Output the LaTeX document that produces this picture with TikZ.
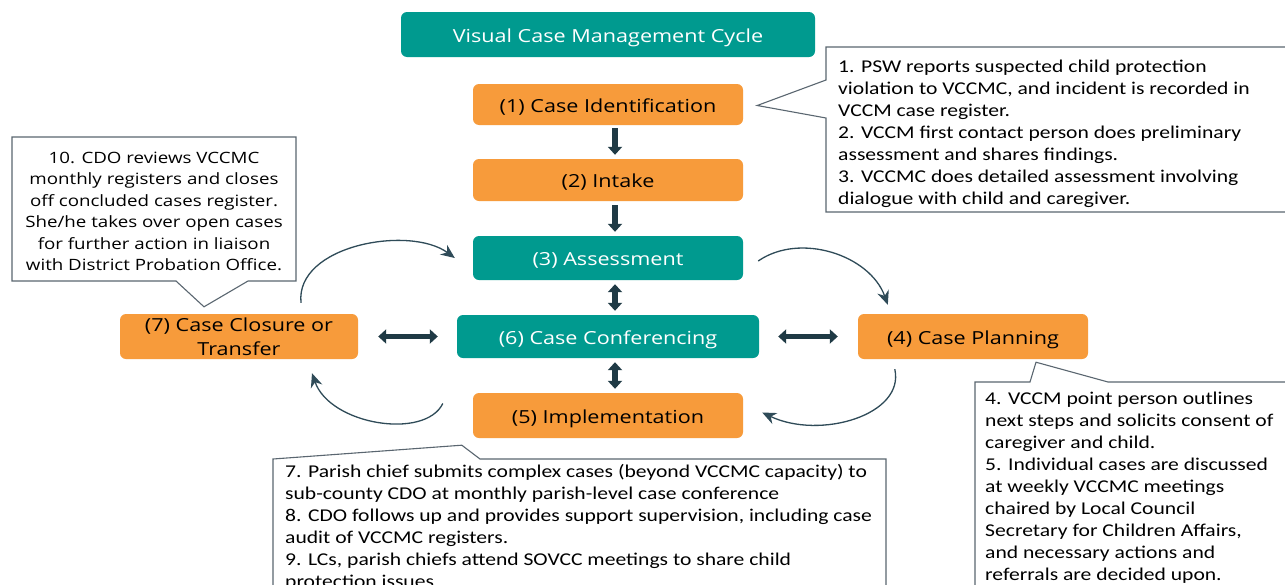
\documentclass[tikz,border=0pt]{standalone}
\usepackage{fontspec}
\setmainfont{Open Sans}
\newfontfamily\callfont{Carlito}[FakeStretch=1.2]
\newfontfamily\osfont{Open Sans}[FakeStretch=1.2]
\usetikzlibrary{arrows.meta,calc}
\definecolor{orng}{RGB}{247,155,59}
\definecolor{teal2}{RGB}{0,154,143}
\definecolor{darkarr}{RGB}{31,58,69}
\definecolor{curvec}{RGB}{47,75,88}
\definecolor{callb}{RGB}{90,102,112}
\tikzset{
  obox/.style={fill=orng, rounded corners=6pt, inner sep=0pt, text=black, font=\osfont\fontsize{18}{24}\selectfont, align=center},
  tbox/.style={fill=teal2, rounded corners=6pt, inner sep=0pt, text=white, font=\osfont\fontsize{18}{24}\selectfont, align=center},
  oneline/.style={text height=16pt, text depth=1pt},
  blockarr/.style={draw=darkarr, line width=5.5pt, -{Triangle[length=8pt,width=14pt]}},
  blockdbl/.style={draw=darkarr, line width=5.5pt, {Triangle[length=8pt,width=14pt]}-{Triangle[length=8pt,width=14pt]}},
  curvarr/.style={draw=curvec, line width=1.3pt, -{Stealth[length=14pt,width=12pt]}},
  callout/.style={draw=callb, line width=1.1pt, fill=white},
  calltext/.style={inner sep=0pt, align=left, anchor=north west, font=\callfont\fontsize{18}{22}\selectfont},
}
\begin{document}
\begin{tikzpicture}[x=1pt,y=-1pt]
\useasboundingbox (0,0) rectangle (1285,584);
\clip (0,0) rectangle (1285,584);
\fill[white] (0,0) rectangle (1285,584);

% title
\node[tbox, oneline, minimum width=414pt, minimum height=45pt] (title) at (608,34.5) {Visual Case Management Cycle};

% boxes
\node[obox, oneline, minimum width=270pt, minimum height=41pt] (b1) at (608,104.5) {(1) Case Identification};
\node[obox, oneline, minimum width=270pt, minimum height=42pt] (b2) at (608,180) {(2) Intake};
\node[tbox, oneline, minimum width=270pt, minimum height=44pt] (b3) at (608,258) {(3) Assessment};
\node[tbox, oneline, minimum width=302pt, minimum height=43pt] (b6) at (608,336.5) {(6) Case Conferencing};
\node[obox, oneline, minimum width=270pt, minimum height=45pt] (b5) at (608,415.5) {(5) Implementation};
\node[obox, oneline, minimum width=230pt, minimum height=45pt] (b4) at (973,336.5) {(4) Case Planning};
\node[obox, minimum width=238pt, minimum height=45pt] (b7) at (239,336.5) {(7) Case Closure or\\Transfer};

% block arrows
\draw[blockarr] ($(b1.south)+(7,3)$) -- ($(b2.north)+(7,-4)$);
\draw[blockarr] ($(b2.south)+(7,4)$) -- ($(b3.north)+(7,-4)$);
\draw[blockdbl] ($(b3.south)+(7,4)$) -- ($(b6.north)+(7,-4)$);
\draw[blockdbl] ($(b6.south)+(7,4)$) -- ($(b5.north)+(7,-4)$);
\draw[blockdbl] ($(b7.east)+(20,0)$) -- ($(b6.west)+(-19,0)$);
\draw[blockdbl] ($(b6.east)+(19,0)$) -- ($(b4.west)+(-20,0)$);

% curved arrows
\draw[curvarr] ($(b3.east)+(15,3)$) .. controls (800,232) and (870,255) .. ($(b4.north west)+(30,-9)$);
\draw[curvarr] ($(b4.south west)+(37,10)$) .. controls (905,415) and (820,440) .. ($(b5.east)+(19,-3)$);
\draw[curvarr] ($(b5.west)+(-30,-12)$) .. controls (425,440) and (330,425) .. ($(b7.south)+(73,14)$);
\draw[curvarr] ($(b7.north)+(62,-11)$) .. controls (295,245) and (410,225) .. ($(b3.west)+(-18,0)$);

% callout 1
\draw[callout] (826,47) -- (1295,47) -- (1295,212) -- (826,212) -- (826,118) -- ($(b1.east)+(14,1)$) -- (826,80) -- cycle;
\node[calltext] (t1) at (838,60) {1. PSW reports suspected child protection\\violation to VCCMC, and incident is recorded in\\VCCM case register.\\2. VCCM first contact person does preliminary\\assessment and shares findings.\\3. VCCMC does detailed assessment involving\\dialogue with child and caregiver.};

% callout 10
\draw[callout] (12,137) -- (296,137) -- (296,281) -- (248,281) -- ($(b7.north)+(-35,-7)$) -- (176,281) -- (12,281) -- cycle;
\node[inner sep=0pt, align=center, font=\osfont\fontsize{15.6}{21.5}\selectfont] (t10) at (154,211.5) {10. CDO reviews VCCMC\\monthly registers and closes\\off concluded cases register.\\She/he takes over open cases\\for further action in liaison\\with District Probation Office.};

% callout 7
\draw[callout] (273,459) -- ($(b5.south west)+(-11,7)$) -- (480,459) -- (886,459) -- (886,600) -- (273,600) -- cycle;
\node[calltext] (t7) at (285,464) {7. Parish chief submits complex cases (beyond VCCMC capacity) to\\sub-county CDO at monthly parish-level case conference\\8. CDO follows up and provides support supervision, including case\\audit of VCCMC registers.\\9. LCs, parish chiefs attend SOVCC meetings to share child\\protection issues};

% callout 4
\draw[callout] (975,382) -- (1030,382) -- ($(b4.south)+(63,3)$) -- (1108,382) -- (1295,382) -- (1295,600) -- (975,600) -- cycle;
\node[calltext] (t4) at (985,392) {4. VCCM point person outlines\\next steps and solicits consent of\\caregiver and child.\\5. Individual cases are discussed\\at weekly VCCMC meetings\\chaired by Local Council\\Secretary for Children Affairs,\\and necessary actions and\\referrals are decided upon.};
\end{tikzpicture}
\end{document}
